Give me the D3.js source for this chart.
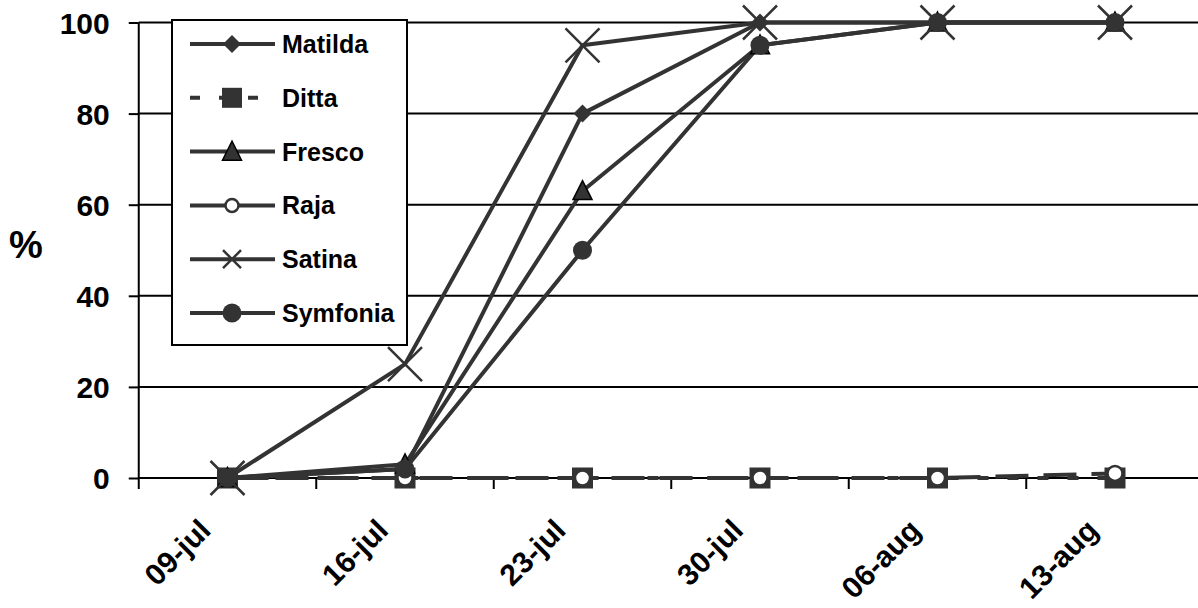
<!DOCTYPE html>
<html><head><meta charset="utf-8">
<script src="https://cdn.jsdelivr.net/npm/d3@7"></script>
<style>
html,body{margin:0;padding:0;background:#fff;overflow:hidden}
svg{display:block}
text{font-family:"Liberation Sans",Arial,sans-serif;font-weight:bold;fill:#000}
</style></head><body>
<svg id="c" width="1198" height="608"></svg>
<script>
const categories = ["09-jul","16-jul","23-jul","30-jul","06-aug","13-aug"];
const seriesNames = ["Matilda","Ditta","Fresco","Raja","Satina","Symfonia"];
const matilda  = [0, 2, 80, 100, 100, 100];
const ditta    = [0, 0, 0, 0, 0, 0];
const fresco   = [0, 3, 63, 95, 100, 100];
const raja     = [0, 0, 0, 0, 0, 1];
const satina   = [0, 25, 95, 100, 100, 100];
const symfonia = [0, 2, 50, 95, 100, 100];
const yTicks = [0, 20, 40, 60, 80, 100];

const seriesValues = [matilda, ditta, fresco, raja, satina, symfonia];
const markerTypes = ["diamond","square","triangle","openCircle","cross","circle"];
const plotDash = [null, "11,19", null, "33,15", null, null];
const legendDash = [null, "10,19", null, null, null, null];

const C = "#333333";
const svg = d3.select("#c");
const pLeft = 138.75, pRight = 1203.75, pTop = 22.5, pBottom = 478;

const x = d3.scaleBand().domain(categories).range([pLeft, pRight]);
const y = d3.scaleLinear().domain([0, 100]).range([pBottom, pTop]);
const cx = c => x(c) + x.bandwidth() / 2;

// gridlines
svg.append("g").selectAll("line").data(yTicks).join("line")
  .attr("x1", pLeft).attr("x2", pRight).attr("y1", d => y(d)).attr("y2", d => y(d))
  .attr("stroke", "#000").attr("stroke-width", 2);

// y axis
const yAxis = svg.append("g").attr("transform", `translate(${pLeft},0)`)
  .call(d3.axisLeft(y).tickValues(yTicks).tickSize(10).tickPadding(19).tickFormat(d3.format("d")));
yAxis.select(".domain").attr("stroke", "#000").attr("stroke-width", 2).attr("d", `M0,${pTop}V${pBottom}`);
yAxis.selectAll(".tick line").attr("stroke", "#000").attr("stroke-width", 2);
yAxis.selectAll(".tick text").attr("font-size", 30).attr("font-family", "Liberation Sans").attr("font-weight", "bold").attr("fill", "#000").attr("dy", "0.36em");

// x axis tick marks at band boundaries
const bounds = categories.map(c => x(c)).concat([pRight]);
svg.append("g").selectAll("line").data(bounds).join("line")
  .attr("x1", d => d).attr("x2", d => d).attr("y1", pBottom).attr("y2", pBottom + 11)
  .attr("stroke", "#000").attr("stroke-width", 2);

// x labels
svg.append("g").selectAll("text").data(categories).join("text")
  .attr("transform", d => `translate(${cx(d) - 15},${pBottom + 54}) rotate(-45)`)
  .attr("text-anchor", "end").attr("font-size", 30).text(d => d);

// % label
svg.append("text").attr("x", 26).attr("y", 258).attr("text-anchor", "middle")
  .attr("font-family", "Liberation Serif,Times New Roman,serif").attr("font-size", 38).text("%");

function marker(g, type, px, py, legend) {
  if (type === "diamond") {
    const r = 9;
    g.append("path").attr("d", `M${px},${py-r}L${px+r},${py}L${px},${py+r}L${px-r},${py}Z`).attr("fill", C);
  } else if (type === "square") {
    const h = legend ? 10 : 10.5;
    g.append("rect").attr("x", px-h).attr("y", py-h).attr("width", 2*h).attr("height", 2*h).attr("fill", C);
  } else if (type === "triangle") {
    const w = 9.5, h = 19;
    g.append("path").attr("d", `M${px},${py-h*0.55}L${px+w},${py+h*0.45}L${px-w},${py+h*0.45}Z`)
      .attr("fill", C).attr("stroke", "#000").attr("stroke-width", 1.5);
  } else if (type === "openCircle") {
    g.append("circle").attr("cx", px).attr("cy", py).attr("r", legend ? 6.5 : 7.5)
      .attr("fill", "#fff").attr("stroke", C).attr("stroke-width", 2.5);
  } else if (type === "cross") {
    const r = legend ? 9 : 17;
    g.append("path").attr("d", `M${px-r},${py-r}L${px+r},${py+r}M${px-r},${py+r}L${px+r},${py-r}`)
      .attr("stroke", C).attr("stroke-width", 2.5);
  } else if (type === "circle") {
    g.append("circle").attr("cx", px).attr("cy", py).attr("r", 9.5).attr("fill", C);
  }
}

// lines
const line = d3.line().x((d, i) => cx(categories[i])).y(d => y(d));
const linesG = svg.append("g");
seriesValues.forEach((vals, si) => {
  linesG.append("path").datum(vals).attr("d", line).attr("fill", "none")
    .attr("stroke", C).attr("stroke-width", 4).attr("stroke-linejoin", "round")
    .attr("stroke-dasharray", plotDash[si]);
});
// markers
const mG = svg.append("g");
seriesValues.forEach((vals, si) => {
  vals.forEach((v, i) => marker(mG, markerTypes[si], cx(categories[i]), y(v), false));
});

// legend
const lg = svg.append("g");
lg.append("rect").attr("x", 172).attr("y", 20).attr("width", 235).attr("height", 325)
  .attr("fill", "#fff").attr("stroke", "#000").attr("stroke-width", 2);
seriesNames.forEach((n, i) => {
  const ry = 44 + i * 53.8;
  lg.append("line").attr("x1", 190).attr("x2", 275).attr("y1", ry).attr("y2", ry)
    .attr("stroke", C).attr("stroke-width", 4).attr("stroke-dasharray", legendDash[i]);
  marker(lg, markerTypes[i], 232, ry, true);
  lg.append("text").attr("x", 282).attr("y", ry + 9).attr("font-size", 25).text(n);
});
</script></body></html>
